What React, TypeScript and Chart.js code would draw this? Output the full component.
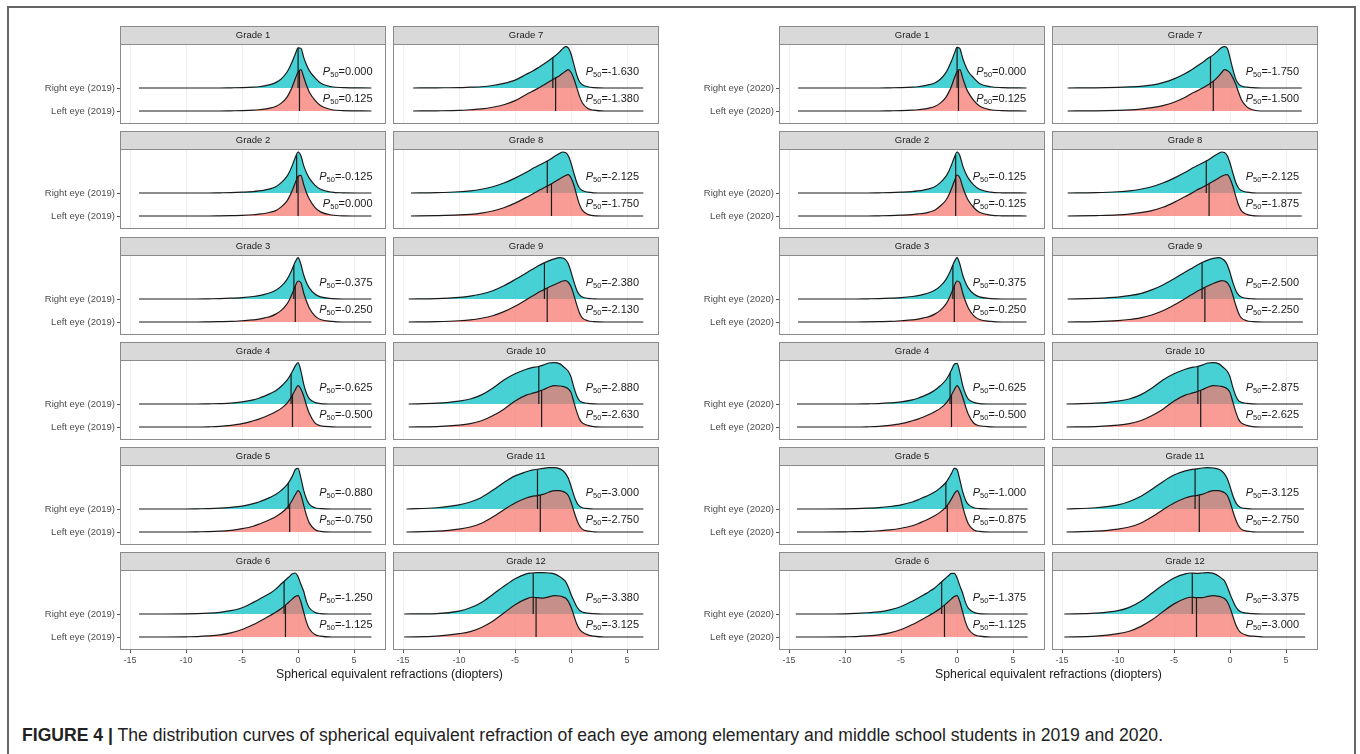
import React, { useEffect, useRef } from 'react';
import { Chart, registerables } from 'chart.js';
Chart.register(...registerables);

// ---------- data ----------
const GRADES = ['Grade 1','Grade 2','Grade 3','Grade 4','Grade 5','Grade 6','Grade 7','Grade 8','Grade 9','Grade 10','Grade 11','Grade 12'];
const X_TICKS = [-15, -10, -5, 0, 5];
// sample positions (diopters) at which ridge heights were read (relative to each ridge's peak)
const XS = [-12, -10, -9, -8, -7, -6, -5, -4, -3.5, -3, -2.5, -2, -1.5, -1, -0.75, -0.5, -0.25, 0, 0.25, 0.5, 0.75, 1, 1.5, 2, 3, 4];

const R19_G1 = [0,0,0,0,0,0.005,0.01,0.02,0.03,0.05,0.08,0.13,0.22,0.38,0.5,0.65,0.82,0.97,0.96,0.74,0.56,0.42,0.25,0.12,0.03,0.01];
const L19_G1 = [0,0,0,0,0,0.005,0.01,0.02,0.03,0.045,0.07,0.11,0.19,0.33,0.45,0.6,0.78,0.94,1.0,0.82,0.62,0.46,0.26,0.13,0.03,0.01];
const R19_G2 = [0,0,0,0,0.005,0.01,0.02,0.035,0.05,0.07,0.1,0.15,0.25,0.4,0.52,0.68,0.86,0.99,0.9,0.66,0.49,0.36,0.19,0.09,0.02,0.005];
const L19_G2 = [0,0,0,0,0.005,0.01,0.015,0.03,0.045,0.06,0.09,0.13,0.22,0.36,0.48,0.63,0.8,0.96,0.98,0.76,0.56,0.41,0.21,0.1,0.025,0.005];
const R19_G3 = [0,0,0,0.005,0.01,0.02,0.035,0.06,0.08,0.11,0.15,0.21,0.31,0.47,0.59,0.74,0.9,1.0,0.84,0.58,0.4,0.27,0.12,0.05,0.01,0];
const L19_G3 = [0,0,0,0.005,0.01,0.015,0.03,0.05,0.07,0.1,0.13,0.19,0.28,0.43,0.55,0.7,0.87,0.99,0.95,0.7,0.5,0.34,0.15,0.06,0.015,0];
const R19_G4 = [0,0,0,0.005,0.01,0.02,0.05,0.1,0.14,0.19,0.25,0.32,0.43,0.57,0.67,0.79,0.92,1.0,0.8,0.48,0.26,0.13,0.04,0.01,0,0];
const L19_G4 = [0,0,0,0.005,0.015,0.04,0.08,0.15,0.19,0.24,0.3,0.37,0.45,0.57,0.66,0.77,0.9,1.0,0.92,0.75,0.52,0.33,0.1,0.03,0.005,0];
const R19_G5 = [0,0,0.005,0.01,0.02,0.04,0.07,0.13,0.17,0.22,0.28,0.35,0.45,0.58,0.68,0.8,0.95,0.98,0.75,0.45,0.24,0.12,0.03,0.01,0,0];
const L19_G5 = [0,0,0.005,0.01,0.02,0.04,0.08,0.14,0.19,0.24,0.3,0.37,0.46,0.58,0.67,0.78,0.9,1.0,0.9,0.65,0.4,0.22,0.06,0.015,0,0];
const R19_G6 = [0,0.005,0.01,0.02,0.04,0.08,0.15,0.28,0.35,0.43,0.5,0.6,0.73,0.85,0.91,0.97,0.99,0.9,0.72,0.55,0.3,0.15,0.04,0.01,0,0];
const L19_G6 = [0,0.005,0.01,0.025,0.05,0.1,0.18,0.3,0.37,0.44,0.52,0.6,0.69,0.8,0.86,0.92,0.98,1.0,0.85,0.6,0.36,0.2,0.06,0.02,0,0];
const R19_G7 = [0.005,0.01,0.02,0.03,0.06,0.11,0.19,0.33,0.4,0.48,0.57,0.66,0.76,0.88,0.95,1.0,0.97,0.82,0.57,0.32,0.15,0.08,0.03,0.01,0,0];
const L19_G7 = [0.005,0.015,0.03,0.05,0.09,0.15,0.25,0.4,0.47,0.54,0.62,0.7,0.78,0.86,0.91,0.96,1.0,0.93,0.78,0.57,0.36,0.2,0.06,0.02,0,0];
const R19_G8 = [0.01,0.03,0.05,0.09,0.15,0.24,0.36,0.5,0.58,0.65,0.72,0.79,0.88,0.96,0.99,0.98,0.9,0.72,0.48,0.26,0.12,0.06,0.02,0.005,0,0];
const L19_G8 = [0.01,0.025,0.04,0.07,0.12,0.2,0.31,0.45,0.52,0.6,0.67,0.74,0.82,0.9,0.94,0.98,1.0,0.92,0.75,0.5,0.28,0.14,0.04,0.01,0,0];
const R19_G9 = [0.01,0.04,0.07,0.12,0.2,0.32,0.47,0.63,0.71,0.79,0.86,0.92,0.97,1.0,0.99,0.95,0.85,0.65,0.42,0.22,0.1,0.05,0.015,0.005,0,0];
const L19_G9 = [0.01,0.03,0.05,0.09,0.15,0.25,0.38,0.54,0.62,0.7,0.77,0.84,0.9,0.96,0.99,1.0,0.96,0.85,0.65,0.42,0.22,0.1,0.03,0.01,0,0];
const R19_G10 = [0.02,0.07,0.12,0.22,0.38,0.58,0.73,0.84,0.88,0.9,0.94,0.99,1.0,0.97,0.92,0.86,0.79,0.65,0.4,0.2,0.08,0.04,0.015,0.005,0,0];
const L19_G10 = [0.01,0.045,0.08,0.15,0.27,0.43,0.63,0.77,0.81,0.85,0.9,0.96,1.0,0.99,0.98,0.96,0.92,0.83,0.6,0.37,0.19,0.1,0.04,0.01,0,0];
const R19_G11 = [0.03,0.1,0.17,0.28,0.45,0.64,0.8,0.9,0.94,0.96,0.98,1.0,1.0,0.97,0.93,0.86,0.74,0.55,0.33,0.16,0.07,0.03,0.01,0,0,0];
const L19_G11 = [0.02,0.07,0.12,0.21,0.36,0.54,0.7,0.82,0.86,0.88,0.91,0.96,1.0,1.0,0.98,0.95,0.88,0.72,0.5,0.3,0.15,0.07,0.02,0.005,0,0];
const R19_G12 = [0.01,0.07,0.15,0.28,0.47,0.67,0.85,0.97,0.99,1.0,1.0,0.99,0.97,0.9,0.85,0.79,0.65,0.47,0.32,0.18,0.09,0.05,0.02,0.01,0,0];
const L19_G12 = [0.02,0.08,0.13,0.23,0.38,0.58,0.78,0.92,0.96,0.95,0.94,0.97,1.0,0.99,0.97,0.94,0.86,0.72,0.52,0.32,0.19,0.12,0.05,0.02,0,0];

const R20_G1 = [0,0,0,0,0,0.005,0.01,0.02,0.03,0.05,0.08,0.12,0.21,0.37,0.5,0.65,0.83,0.98,0.95,0.72,0.54,0.4,0.24,0.11,0.03,0.01];
const L20_G1 = [0,0,0,0,0,0.005,0.01,0.02,0.03,0.045,0.07,0.11,0.19,0.33,0.45,0.6,0.79,0.95,1.0,0.8,0.6,0.45,0.25,0.12,0.03,0.01];
const R20_G2 = [0,0,0,0,0.005,0.01,0.02,0.035,0.05,0.07,0.1,0.15,0.25,0.4,0.52,0.68,0.86,0.99,0.9,0.66,0.49,0.36,0.19,0.09,0.02,0.005];
const L20_G2 = [0,0,0,0,0.005,0.01,0.02,0.035,0.05,0.065,0.095,0.14,0.24,0.38,0.5,0.66,0.84,0.99,0.92,0.7,0.52,0.38,0.2,0.09,0.02,0.005];
const R20_G3 = [0,0,0,0.005,0.01,0.02,0.035,0.06,0.08,0.11,0.15,0.21,0.31,0.47,0.59,0.74,0.9,1.0,0.84,0.58,0.4,0.27,0.12,0.05,0.01,0];
const L20_G3 = [0,0,0,0.005,0.01,0.015,0.03,0.05,0.07,0.1,0.13,0.19,0.28,0.43,0.55,0.7,0.87,0.99,0.95,0.7,0.5,0.34,0.15,0.06,0.015,0];
const R20_G4 = [0,0,0,0.005,0.01,0.025,0.05,0.1,0.14,0.19,0.25,0.33,0.44,0.58,0.69,0.82,0.96,0.98,0.76,0.45,0.24,0.12,0.04,0.01,0,0];
const L20_G4 = [0,0,0,0.005,0.015,0.04,0.08,0.15,0.19,0.24,0.3,0.37,0.45,0.57,0.66,0.77,0.9,1.0,0.9,0.72,0.5,0.31,0.09,0.03,0.005,0];
const R20_G5 = [0,0.005,0.01,0.02,0.035,0.06,0.1,0.17,0.22,0.28,0.34,0.41,0.51,0.64,0.74,0.86,0.98,0.95,0.7,0.42,0.22,0.11,0.03,0.01,0,0];
const L20_G5 = [0,0.005,0.008,0.015,0.03,0.05,0.09,0.15,0.2,0.26,0.32,0.39,0.48,0.6,0.69,0.8,0.92,1.0,0.88,0.62,0.38,0.2,0.05,0.015,0,0];
const R20_G6 = [0,0.005,0.015,0.03,0.05,0.1,0.18,0.31,0.38,0.46,0.54,0.63,0.75,0.87,0.93,0.98,0.98,0.87,0.68,0.5,0.28,0.14,0.04,0.01,0,0];
const L20_G6 = [0,0.005,0.01,0.025,0.05,0.1,0.18,0.3,0.37,0.44,0.52,0.6,0.69,0.8,0.86,0.92,0.98,1.0,0.85,0.6,0.36,0.2,0.06,0.02,0,0];
const R20_G7 = [0.005,0.015,0.025,0.04,0.07,0.13,0.22,0.35,0.43,0.52,0.61,0.71,0.8,0.92,0.98,1.0,0.96,0.72,0.45,0.22,0.1,0.05,0.02,0.01,0,0];
const L20_G7 = [0.005,0.015,0.025,0.045,0.08,0.13,0.21,0.33,0.41,0.48,0.55,0.63,0.72,0.85,0.93,1.0,0.98,0.92,0.8,0.65,0.46,0.28,0.1,0.03,0,0];
const R20_G8 = [0.01,0.03,0.05,0.09,0.15,0.24,0.36,0.5,0.58,0.65,0.72,0.79,0.88,0.96,0.99,0.98,0.9,0.72,0.48,0.26,0.12,0.06,0.02,0.005,0,0];
const L20_G8 = [0.01,0.025,0.045,0.08,0.13,0.21,0.33,0.47,0.54,0.62,0.69,0.76,0.84,0.92,0.96,0.99,1.0,0.9,0.72,0.48,0.27,0.13,0.04,0.01,0,0];
const R20_G9 = [0.015,0.045,0.08,0.13,0.22,0.34,0.49,0.65,0.73,0.81,0.88,0.94,0.98,1.0,0.98,0.93,0.83,0.63,0.4,0.21,0.1,0.05,0.015,0.005,0,0];
const L20_G9 = [0.01,0.035,0.06,0.1,0.17,0.27,0.41,0.57,0.65,0.73,0.8,0.87,0.93,0.98,1.0,0.99,0.95,0.84,0.64,0.41,0.22,0.1,0.03,0.01,0,0];
const R20_G10 = [0.02,0.07,0.12,0.22,0.38,0.58,0.73,0.84,0.88,0.9,0.94,0.99,1.0,0.97,0.92,0.86,0.79,0.65,0.4,0.2,0.08,0.04,0.015,0.005,0,0];
const L20_G10 = [0.01,0.045,0.08,0.15,0.27,0.43,0.63,0.77,0.81,0.85,0.9,0.96,1.0,0.99,0.98,0.96,0.92,0.83,0.6,0.37,0.19,0.1,0.04,0.01,0,0];
const R20_G11 = [0.03,0.1,0.18,0.3,0.47,0.66,0.82,0.92,0.95,0.97,0.99,1.0,0.99,0.96,0.92,0.85,0.73,0.54,0.32,0.16,0.07,0.03,0.01,0,0,0];
const L20_G11 = [0.02,0.07,0.12,0.21,0.36,0.54,0.7,0.82,0.86,0.88,0.91,0.96,1.0,1.0,0.98,0.95,0.88,0.72,0.5,0.3,0.15,0.07,0.02,0.005,0,0];
const R20_G12 = [0.02,0.08,0.16,0.3,0.5,0.7,0.87,0.97,0.99,0.98,0.99,1.0,0.98,0.91,0.86,0.8,0.66,0.48,0.32,0.18,0.09,0.05,0.02,0.01,0,0];
const L20_G12 = [0.02,0.08,0.14,0.25,0.41,0.61,0.8,0.93,0.96,0.95,0.95,0.98,1.0,0.98,0.96,0.93,0.85,0.7,0.5,0.3,0.17,0.1,0.04,0.02,0,0];

// where each ridge's line starts / ends (diopters)
const START_19 = [-14.2,-14.2,-14.2,-14.2,-14.2,-14.2,-14.1,-14.3,-14.5,-14.5,-14.7,-14.9];
const END_19 = [6.55,6.55,6.55,6.55,6.55,6.55,6.45,6.45,6.45,6.45,6.45,6.45];
const START_20 = [-14.2,-14.2,-14.2,-14.3,-14.3,-14.4,-14.5,-14.5,-14.5,-14.6,-14.6,-14.8];
const END_20 = [6.2,6.2,6.2,6.2,6.3,6.3,6.4,6.4,6.5,6.5,6.6,6.7];

// medians
const P50_R19 = [0, -0.125, -0.375, -0.625, -0.88, -1.25, -1.63, -2.125, -2.38, -2.88, -3.0, -3.38];
const P50_L19 = [0.125, 0, -0.25, -0.5, -0.75, -1.125, -1.38, -1.75, -2.13, -2.63, -2.75, -3.125];
const P50_R20 = [0, -0.125, -0.375, -0.625, -1.0, -1.375, -1.75, -2.125, -2.5, -2.875, -3.125, -3.375];
const P50_L20 = [0.125, -0.125, -0.25, -0.5, -0.875, -1.125, -1.5, -1.875, -2.25, -2.625, -2.75, -3.0];

const RIGHT_19 = [R19_G1,R19_G2,R19_G3,R19_G4,R19_G5,R19_G6,R19_G7,R19_G8,R19_G9,R19_G10,R19_G11,R19_G12];
const LEFT_19 = [L19_G1,L19_G2,L19_G3,L19_G4,L19_G5,L19_G6,L19_G7,L19_G8,L19_G9,L19_G10,L19_G11,L19_G12];
const RIGHT_20 = [R20_G1,R20_G2,R20_G3,R20_G4,R20_G5,R20_G6,R20_G7,R20_G8,R20_G9,R20_G10,R20_G11,R20_G12];
const LEFT_20 = [L20_G1,L20_G2,L20_G3,L20_G4,L20_G5,L20_G6,L20_G7,L20_G8,L20_G9,L20_G10,L20_G11,L20_G12];

// ---------- layout / style ----------
const FONT = "'Liberation Sans', Arial, Helvetica, sans-serif";
const X_MIN = -15.9, X_MAX = 7.85;
const Y_MIN = 0.435, Y_MAX = 3.913;
const RIDGE_H = 1.8;
const PANEL_W = 266, PANEL_H = 80, STRIP_H = 18;
const ROW_TOPS = [44, 149, 255, 360, 465, 570];
const CYAN = 'rgba(0,191,196,0.72)';
const SALMON = 'rgba(248,118,109,0.72)';

function heightAt(h: number[], x: number, start: number, end: number) {
  const xs = [start, ...XS.filter(v => v > start && v < end), end];
  const ys = [0, ...h.filter((_, i) => XS[i] > start && XS[i] < end), 0];
  for (let i = 0; i < xs.length - 1; i++) {
    if (x >= xs[i] && x <= xs[i + 1]) {
      const t = (x - xs[i]) / (xs[i + 1] - xs[i]);
      return ys[i] + t * (ys[i + 1] - ys[i]);
    }
  }
  return 0;
}
function ridge(h: number[], start: number, end: number, base: number) {
  const pts = [{ x: start, y: base }];
  XS.forEach((x, i) => { if (x > start && x < end) pts.push({ x, y: base + h[i] * RIDGE_H }); });
  pts.push({ x: end, y: base });
  return pts;
}

type PanelProps = {
  left: number; top: number; grade: string; showY: boolean; showX: boolean; year: string;
  right: number[]; leftEye: number[]; start: number; end: number; p50R: number; p50L: number; labelOff: number;
};

function Panel(p: PanelProps) {
  const ref = useRef<HTMLCanvasElement>(null);
  const pad = 2;
  const yW = p.showY ? 108 : 0;
  const xH = p.showX ? 22 : 0;
  const cw = pad + yW + PANEL_W + pad;
  const chh = pad + STRIP_H + PANEL_H + xH + pad;
  useEffect(() => {
    const hR = heightAt(p.right, p.p50R, p.start, p.end) * RIDGE_H;
    const hL = heightAt(p.leftEye, p.p50L, p.start, p.end) * RIDGE_H;
    const panelPlugin = {
      id: 'panelDeco',
      afterDraw(chart: any) {
        const { ctx, chartArea: a } = chart;
        ctx.save();
        ctx.strokeStyle = '#8a8a8a';
        ctx.lineWidth = 1;
        ctx.strokeRect(a.left + 0.5, a.top + 0.5, a.right - a.left - 1, a.bottom - a.top - 1);
        ctx.fillStyle = '#d9d9d9';
        ctx.fillRect(a.left, a.top - STRIP_H, a.right - a.left, STRIP_H);
        ctx.strokeRect(a.left + 0.5, a.top - STRIP_H + 0.5, a.right - a.left - 1, STRIP_H);
        ctx.fillStyle = '#1a1a1a';
        ctx.font = `9.5px ${FONT}`;
        ctx.textAlign = 'center';
        ctx.textBaseline = 'middle';
        ctx.fillText(p.grade, (a.left + a.right) / 2, a.top - STRIP_H / 2 + 0.5);
        const ys = chart.scales.y;
        const drawLab = (val: number, yc: number) => {
          const rest = '=' + val.toFixed(3);
          ctx.textAlign = 'left';
          ctx.textBaseline = 'middle';
          ctx.font = `italic 11px ${FONT}`;
          const wP = ctx.measureText('P').width;
          ctx.font = `7.5px ${FONT}`;
          const w5 = ctx.measureText('50').width;
          ctx.font = `11px ${FONT}`;
          const wR = ctx.measureText(rest).width;
          let x = a.right - p.labelOff - (wP + w5 + wR);
          ctx.fillStyle = '#1a1a1a';
          ctx.font = `italic 11px ${FONT}`;
          ctx.fillText('P', x, yc);
          x += wP;
          ctx.font = `7.5px ${FONT}`;
          ctx.fillText('50', x, yc + 3);
          x += w5;
          ctx.font = `11px ${FONT}`;
          ctx.fillText(rest, x, yc);
        };
        drawLab(p.p50R, ys.getPixelForValue(2) - 16);
        drawLab(p.p50L, ys.getPixelForValue(1) - 12);
        ctx.restore();
      },
    };
    const chart = new Chart(ref.current as HTMLCanvasElement, {
      type: 'line',
      data: {
        datasets: [
          { data: [{ x: p.p50R, y: 2 }, { x: p.p50R, y: 2 + hR }], borderColor: '#1a1a1a', borderWidth: 1.2, pointRadius: 0, fill: false, order: 0 },
          { data: [{ x: p.p50L, y: 1 }, { x: p.p50L, y: 1 + hL }], borderColor: '#1a1a1a', borderWidth: 1.2, pointRadius: 0, fill: false, order: 0 },
          { data: ridge(p.leftEye, p.start, p.end, 1), borderColor: '#1a1a1a', borderWidth: 1.2, backgroundColor: SALMON, pointRadius: 0, cubicInterpolationMode: 'monotone', fill: { value: 1 }, order: 1 },
          { data: ridge(p.right, p.start, p.end, 2), borderColor: '#1a1a1a', borderWidth: 1.2, backgroundColor: CYAN, pointRadius: 0, cubicInterpolationMode: 'monotone', fill: { value: 2 }, order: 2 },
        ] as any,
      },
      options: {
        responsive: false,
        maintainAspectRatio: false,
        animation: false,
        events: [],
        layout: { padding: { left: pad, right: pad, top: pad + STRIP_H, bottom: pad } },
        plugins: { legend: { display: false }, tooltip: { enabled: false }, title: { display: false } },
        scales: {
          x: {
            type: 'linear', min: X_MIN, max: X_MAX,
            afterBuildTicks: (s: any) => { s.ticks = X_TICKS.map(v => ({ value: v })); },
            afterFit: (s: any) => { s.height = xH; s.paddingLeft = 0; s.paddingRight = 0; s.paddingTop = 0; s.paddingBottom = 0; },
            ticks: { display: p.showX, color: '#4d4d4d', font: { size: 9, family: FONT }, padding: 2, maxRotation: 0, autoSkip: false, callback: (v: any) => String(v) },
            grid: { color: '#efefef', tickColor: '#555', tickLength: 3, drawTicks: p.showX },
            border: { display: false },
          },
          y: {
            type: 'linear', display: p.showY, min: Y_MIN, max: Y_MAX,
            afterBuildTicks: (s: any) => { s.ticks = [{ value: 1 }, { value: 2 }]; },
            afterFit: (s: any) => { s.width = yW; s.paddingTop = 0; s.paddingBottom = 0; s.paddingLeft = 0; s.paddingRight = 0; },
            ticks: { color: '#4d4d4d', font: { size: 9.5, family: FONT }, padding: 2, callback: (v: any) => (v === 2 ? `Right eye (${p.year})` : `Left eye (${p.year})`) },
            grid: { drawOnChartArea: false, tickColor: '#555', tickLength: 3 },
            border: { display: false },
          },
        },
      } as any,
      plugins: [panelPlugin as any],
    });
    return () => chart.destroy();
  }, []);
  return (
    <canvas
      ref={ref}
      width={cw}
      height={chh}
      style={{ position: 'absolute', left: p.left - pad - yW, top: p.top - STRIP_H - pad, width: cw, height: chh }}
    />
  );
}

function Group(props: { year: string; col1: number; col2: number; right: number[][]; leftEye: number[][]; start: number[]; end: number[]; p50R: number[]; p50L: number[]; offs: number[] }) {
  const panels = GRADES.map((g, i) => {
    const col = i < 6 ? 0 : 1;
    const row = i % 6;
    return (
      <Panel
        key={g}
        left={col === 0 ? props.col1 : props.col2}
        top={ROW_TOPS[row]}
        grade={g}
        showY={col === 0}
        showX={row === 5}
        year={props.year}
        right={props.right[i]}
        leftEye={props.leftEye[i]}
        start={props.start[i]}
        end={props.end[i]}
        p50R={props.p50R[i]}
        p50L={props.p50L[i]}
        labelOff={props.offs[col]}
      />
    );
  });
  const cx = (props.col1 + props.col2 + PANEL_W) / 2;
  return (
    <>
      {panels}
      <div style={{ position: 'absolute', left: cx - 200, width: 400, top: 666, textAlign: 'center', font: `12.3px ${FONT}`, lineHeight: '16px', color: '#1a1a1a' }}>
        Spherical equivalent refractions (diopters)
      </div>
    </>
  );
}

export default function App() {
  return (
    <div style={{ position: 'fixed', left: 0, top: 0, width: 1360, height: 754, overflow: 'hidden', background: '#fff' }}>
      <div style={{ position: 'absolute', left: 7, top: 6, width: 1349, height: 800, border: '2px solid #666', borderBottom: 'none', boxSizing: 'border-box' }} />
      <Group year="2019" col1={120} col2={393} right={RIGHT_19} leftEye={LEFT_19} start={START_19} end={END_19} p50R={P50_R19} p50L={P50_L19} offs={[13.5, 20]} />
      <Group year="2020" col1={779} col2={1052} right={RIGHT_20} leftEye={LEFT_20} start={START_20} end={END_20} p50R={P50_R20} p50L={P50_L20} offs={[19, 19]} />
      <div style={{ position: 'absolute', left: 22, top: 724, font: `17.6px ${FONT}`, lineHeight: '22px', color: '#222', whiteSpace: 'nowrap' }}>
        <b>FIGURE 4 |</b> The distribution curves of spherical equivalent refraction of each eye among elementary and middle school students in 2019 and 2020.
      </div>
    </div>
  );
}
